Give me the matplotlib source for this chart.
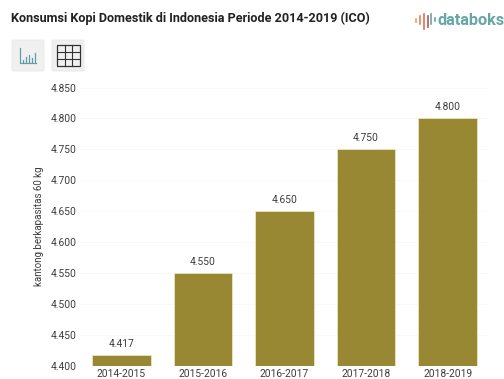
import matplotlib.pyplot as plt
from matplotlib.patches import FancyBboxPatch, Rectangle
from matplotlib.lines import Line2D

W, H = 504, 379

periods = ['2014-2015', '2015-2016', '2016-2017', '2017-2018', '2018-2019']
consumption = [4.417, 4.550, 4.650, 4.750, 4.800]
y_ticks = [4.400, 4.450, 4.500, 4.550, 4.600, 4.650, 4.700, 4.750, 4.800, 4.850]

bar_color = '#998833'
text_color = '#3c3c3c'
teal = '#5f9fa8'

plt.rcParams['font.family'] = 'Roboto'

fig = plt.figure(figsize=(W / 100, H / 100), dpi=100)
ax = fig.add_axes([80.5 / W, 1 - 366 / H, 408 / W, 278.5 / H])

ax.bar(periods, consumption, width=0.72, color=bar_color, edgecolor='#f3ecc8', linewidth=0.5, zorder=3)
for i, v in enumerate(consumption):
    ax.annotate(f'{v:.3f}', (i, v), xytext=(0, 4.5), textcoords='offset points', ha='center', va='bottom',
                fontsize=7.4, color=text_color)

ax.set_xlim(-0.5, 4.5)
ax.set_ylim(4.400, 4.850)
ax.set_yticks(y_ticks, [f'{t:.3f}' for t in y_ticks])
ax.grid(axis='y', color='#f7f7f7', linewidth=0.6, zorder=0)
ax.tick_params(length=0, labelsize=7.4, labelcolor=text_color)
ax.tick_params(axis='y', pad=2.5)
ax.tick_params(axis='x', pad=2)
for s in ax.spines.values():
    s.set_visible(False)
ax.set_ylabel('kantong berkapasitas 60 kg', fontsize=7.05, color=text_color, labelpad=5)

# title and logo
fig.text(11 / W, 1 - 18 / H, 'Konsumsi Kopi Domestik di Indonesia Periode 2014-2019 (ICO)', fontsize=9.1,
         fontweight='bold', color='#222222', va='center')
fig.text(438 / W, 1 - 20.5 / H, 'databoks', fontsize=11.7, fontweight='bold', color='#66a6a8', va='center')
for x, y0, y1, c in [(416, 19, 22, '#e9a35a'), (420, 16, 24, '#e0825a'), (424, 14, 29, '#d9705a'), (427.5, 16, 27, '#c0504d'),
                     (431, 14, 24, '#66a6a8'), (435, 18, 21, '#66a6a8')]:
    fig.add_artist(Line2D([x / W, x / W], [1 - y0 / H, 1 - y1 / H], color=c, linewidth=1.2))

# chart/table toggle buttons
for x0 in (12, 52):
    fig.add_artist(FancyBboxPatch((x0 / W, 1 - 71 / H), 32 / W, 31 / H, boxstyle='round,pad=0,rounding_size=0.003',
                                  facecolor='#f0f0f0', edgecolor='#e8e8e8', linewidth=0.6,
                                  transform=fig.transFigure))

# bar chart icon
fig.add_artist(Line2D([19.5 / W, 19.5 / W, 36 / W], [1 - 48 / H, 1 - 63 / H, 1 - 63 / H], color=teal, linewidth=0.9))
for x, top in [(22.5, 60), (25.5, 57), (29, 55), (32, 58), (34.5, 53)]:
    fig.add_artist(Line2D([x / W, x / W], [1 - 61.5 / H, 1 - top / H], color=teal, linewidth=0.9))

# table icon
fig.add_artist(Rectangle((56.5 / W, 1 - 66 / H), 23.5 / W, 21.5 / H, facecolor='none', edgecolor='#333333',
                         linewidth=0.9, transform=fig.transFigure))
for x in (64.5, 72):
    fig.add_artist(Line2D([x / W, x / W], [1 - 45 / H, 1 - 66 / H], color='#333333', linewidth=0.8))
for y in (52, 59):
    fig.add_artist(Line2D([56.5 / W, 80 / W], [1 - y / H, 1 - y / H], color='#333333', linewidth=0.8))

plt.savefig('out.png', dpi=100)
